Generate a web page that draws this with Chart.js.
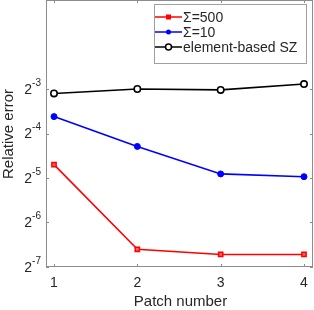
<!DOCTYPE html>
<html>
<head>
<meta charset="utf-8">
<script src="https://cdn.jsdelivr.net/npm/chart.js@4/dist/chart.umd.min.js"></script>
<style>
  html, body { margin: 0; padding: 0; background: #fff; }
  #wrap { width: 314px; height: 310px; position: relative; }
</style>
</head>
<body>
<div id="wrap"><canvas id="chart"></canvas></div>
<script>
// data (y values are relative errors)
const patches = [1, 2, 3, 4];
const sigma500 = [0.0385, 0.0103, 0.0095, 0.0095];
const sigma10 = [0.0813, 0.0511, 0.0333, 0.0319];
const elementSZ = [0.1166, 0.125, 0.1233, 0.135];
const yExponents = [-7, -6, -5, -4, -3];
const seriesLabels = ['\u03A3=500', '\u03A3=10', 'element-based SZ'];

const axisColor = '#8c8c8c';
const textColor = '#262626';
const font = 'Liberation Sans, Arial, sans-serif';

const toPoints = (ys) => patches.map((x, i) => ({ x: x, y: ys[i] }));

// draws the box, inward ticks, 2^n labels, axis titles and the legend
const matlabAxes = {
  id: 'matlabAxes',
  afterDraw(chart) {
    const ctx = chart.ctx;
    const { left, right, top, bottom } = chart.chartArea;
    const xs = chart.scales.x;
    const ys = chart.scales.y;
    ctx.save();

    // box
    ctx.strokeStyle = axisColor;
    ctx.lineWidth = 1;
    ctx.strokeRect(left + 0.5, top + 0.5, right - left - 1, bottom - top - 1);

    // ticks
    ctx.beginPath();
    patches.forEach((p) => {
      const px = Math.round(xs.getPixelForValue(p)) + 0.5;
      ctx.moveTo(px, bottom); ctx.lineTo(px, bottom - 3);
      ctx.moveTo(px, top); ctx.lineTo(px, top + 3);
    });
    yExponents.forEach((e) => {
      const py = Math.round(ys.getPixelForValue(Math.pow(2, e))) + 0.5;
      ctx.moveTo(left, py); ctx.lineTo(left + 3, py);
      ctx.moveTo(right, py); ctx.lineTo(right - 3, py);
    });
    ctx.stroke();

    ctx.fillStyle = textColor;

    // x tick labels
    ctx.font = '14px ' + font;
    ctx.textAlign = 'center';
    ctx.textBaseline = 'middle';
    patches.forEach((p) => {
      ctx.fillText(String(p), xs.getPixelForValue(p), bottom + 16);
    });

    // y tick labels 2^n
    yExponents.forEach((e) => {
      const py = ys.getPixelForValue(Math.pow(2, e));
      ctx.font = '10px ' + font;
      const sup = String(e);
      const supW = ctx.measureText(sup).width;
      ctx.textAlign = 'right';
      ctx.textBaseline = 'middle';
      ctx.fillText(sup, left - 5, py - 6);
      ctx.font = '14px ' + font;
      ctx.fillText('2', left - 5 - supW, py + 1);
    });

    // axis titles
    ctx.font = '15px ' + font;
    ctx.textAlign = 'center';
    ctx.textBaseline = 'middle';
    ctx.fillText('Patch number', (left + right) / 2 + 1, bottom + 35);
    ctx.save();
    ctx.translate(9, 134);
    ctx.rotate(-Math.PI / 2);
    ctx.fillText('Relative error', 0, 0);
    ctx.restore();

    // legend
    const lx = 154, ly = 4, lw = 152, lh = 59;
    ctx.fillStyle = '#fff';
    ctx.fillRect(lx, ly, lw, lh);
    ctx.strokeStyle = '#a0a0a0';
    ctx.strokeRect(lx + 0.5, ly + 0.5, lw, lh);
    chart.data.datasets.forEach((ds, i) => {
      const yy = ly + 13 + i * 15;
      ctx.strokeStyle = ds.borderColor;
      ctx.lineWidth = 1.5;
      ctx.beginPath();
      ctx.moveTo(lx + 1, yy); ctx.lineTo(lx + 28, yy);
      ctx.stroke();
      ctx.beginPath();
      const mx = lx + 14.5;
      if (ds.pointStyle === 'rect') {
        ctx.fillStyle = ds.borderColor;
        ctx.fillRect(mx - 2.5, yy - 2.5, 5, 5);
      } else if (ds.pointBackgroundColor === '#fff') {
        ctx.fillStyle = '#fff';
        ctx.arc(mx, yy, 3, 0, Math.PI * 2);
        ctx.fill(); ctx.stroke();
      } else {
        ctx.fillStyle = ds.borderColor;
        ctx.arc(mx, yy, 2.5, 0, Math.PI * 2);
        ctx.fill();
      }
      ctx.fillStyle = textColor;
      ctx.font = '14px ' + font;
      ctx.textAlign = 'left';
      ctx.textBaseline = 'middle';
      ctx.fillText(ds.label, lx + 29, yy + 1);
    });

    ctx.restore();
  }
};

new Chart(document.getElementById('chart'), {
  type: 'line',
  data: {
    datasets: [
      {
        label: seriesLabels[0],
        data: toPoints(sigma500),
        borderColor: '#ff0000',
        backgroundColor: '#ff0000',
        pointStyle: 'rect',
        pointRadius: 3,
        pointBackgroundColor: '#ff6060',
        pointBorderColor: '#ff0000',
        pointBorderWidth: 1.5,
        borderWidth: 1.6
      },
      {
        label: seriesLabels[1],
        data: toPoints(sigma10),
        borderColor: '#0000ff',
        backgroundColor: '#0000ff',
        pointStyle: 'circle',
        pointRadius: 3,
        pointBackgroundColor: '#0000ff',
        pointBorderColor: '#0000ff',
        pointBorderWidth: 1,
        borderWidth: 1.6
      },
      {
        label: seriesLabels[2],
        data: toPoints(elementSZ),
        borderColor: '#000000',
        backgroundColor: '#000000',
        pointStyle: 'circle',
        pointRadius: 3.2,
        pointBackgroundColor: '#fff',
        pointBorderColor: '#000000',
        pointBorderWidth: 1.6,
        borderWidth: 1.6
      }
    ]
  },
  options: {
    responsive: true,
    maintainAspectRatio: false,
    animation: false,
    clip: false,
    layout: { autoPadding: false, padding: { left: 46, right: 1, top: 0, bottom: 43 } },
    plugins: { legend: { display: false }, tooltip: { enabled: false } },
    scales: {
      x: { type: 'linear', min: 0.904, max: 4.108, display: false },
      y: { type: 'logarithmic', min: Math.pow(2, -7), max: Math.pow(2, -1), display: false }
    }
  },
  plugins: [matlabAxes]
});
</script>
</body>
</html>
